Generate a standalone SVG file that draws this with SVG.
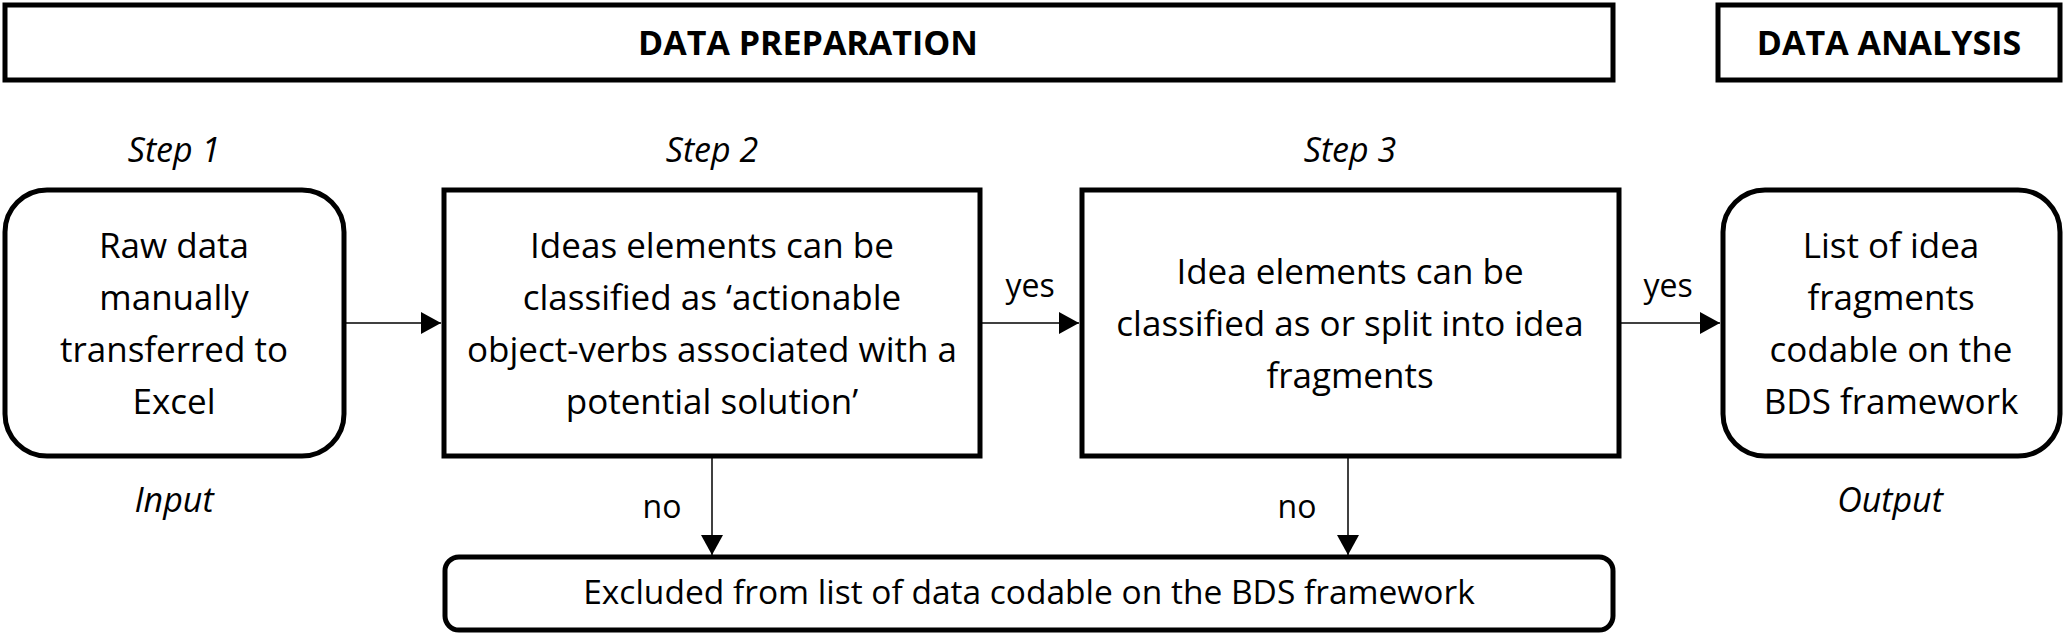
<svg xmlns="http://www.w3.org/2000/svg" width="2065" height="636" viewBox="0 0 2065 636">
<style>
.box{fill:#fff;stroke:#000;stroke-width:5}
.t{font-family:"Open Sans","Noto Sans",sans-serif;font-size:35px;fill:#000;text-anchor:middle}
.b{font-family:"Open Sans","Noto Sans",sans-serif;font-size:33.5px;fill:#000;text-anchor:middle}
.h{font-family:"Open Sans","Noto Sans",sans-serif;font-size:34px;font-weight:bold;fill:#000;text-anchor:middle}
.i{font-family:"Open Sans","Noto Sans",sans-serif;font-size:34px;font-style:italic;fill:#000;text-anchor:middle}
.l{font-family:"Open Sans","Noto Sans",sans-serif;font-size:32px;fill:#000;text-anchor:middle}
.c{stroke:#000;stroke-width:1.5;fill:none}
</style>
<defs>
<marker id="ah" markerWidth="20" markerHeight="22" refX="20" refY="11" orient="auto" markerUnits="userSpaceOnUse">
<path d="M0,0 L20,11 L0,22 Z" fill="#000"/>
</marker>
</defs>
<rect width="2065" height="636" fill="#fff"/>
<g id="header-prep">
<rect class="box" x="5" y="5" width="1608" height="75"/>
<text class="h" x="808" y="55">DATA PREPARATION</text>
</g>
<g id="header-analysis">
<rect class="box" x="1718" y="5" width="342" height="75"/>
<text class="h" x="1889" y="55">DATA ANALYSIS</text>
</g>
<g id="labels">
<text class="i" x="174" y="162">Step 1</text>
<text class="i" x="712" y="162">Step 2</text>
<text class="i" x="1350" y="162">Step 3</text>
<text class="i" x="174" y="512">Input</text>
<text class="i" x="1890" y="512">Output</text>
</g>
<g id="node-input">
<rect class="box" x="5" y="190" width="339" height="266" rx="42"/>
<text class="t" x="174" y="258">Raw data</text>
<text class="t" x="174" y="310">manually</text>
<text class="t" x="174" y="362">transferred to</text>
<text class="t" x="174" y="414">Excel</text>
</g>
<g id="node-step2">
<rect class="box" x="444" y="190" width="536" height="266"/>
<text class="t" x="712" y="258">Ideas elements can be</text>
<text class="t" x="712" y="310">classified as ‘actionable</text>
<text class="t" x="712" y="362">object-verbs associated with a</text>
<text class="t" x="712" y="414">potential solution’</text>
</g>
<g id="node-step3">
<rect class="box" x="1082" y="190" width="537" height="266"/>
<text class="t" x="1350" y="284">Idea elements can be</text>
<text class="t" x="1350" y="336">classified as or split into idea</text>
<text class="t" x="1350" y="388">fragments</text>
</g>
<g id="node-output">
<rect class="box" x="1723" y="190" width="337" height="266" rx="42"/>
<text class="t" x="1891" y="258">List of idea</text>
<text class="t" x="1891" y="310">fragments</text>
<text class="t" x="1891" y="362">codable on the</text>
<text class="t" x="1891" y="414">BDS framework</text>
</g>
<g id="node-excluded">
<rect class="box" x="445" y="557" width="1168" height="73" rx="14"/>
<text class="b" x="1029" y="604">Excluded from list of data codable on the BDS framework</text>
</g>
<g id="connectors">
<line class="c" x1="346" y1="323" x2="441" y2="323" marker-end="url(#ah)"/>
<line class="c" x1="982" y1="323" x2="1079" y2="323" marker-end="url(#ah)"/>
<line class="c" x1="1621" y1="323" x2="1720" y2="323" marker-end="url(#ah)"/>
<line class="c" x1="712" y1="458" x2="712" y2="555" marker-end="url(#ah)"/>
<line class="c" x1="1348" y1="458" x2="1348" y2="555" marker-end="url(#ah)"/>
<text class="l" x="1030" y="297">yes</text>
<text class="l" x="1668" y="297">yes</text>
<text class="l" x="662" y="518">no</text>
<text class="l" x="1297" y="518">no</text>
</g>
</svg>
